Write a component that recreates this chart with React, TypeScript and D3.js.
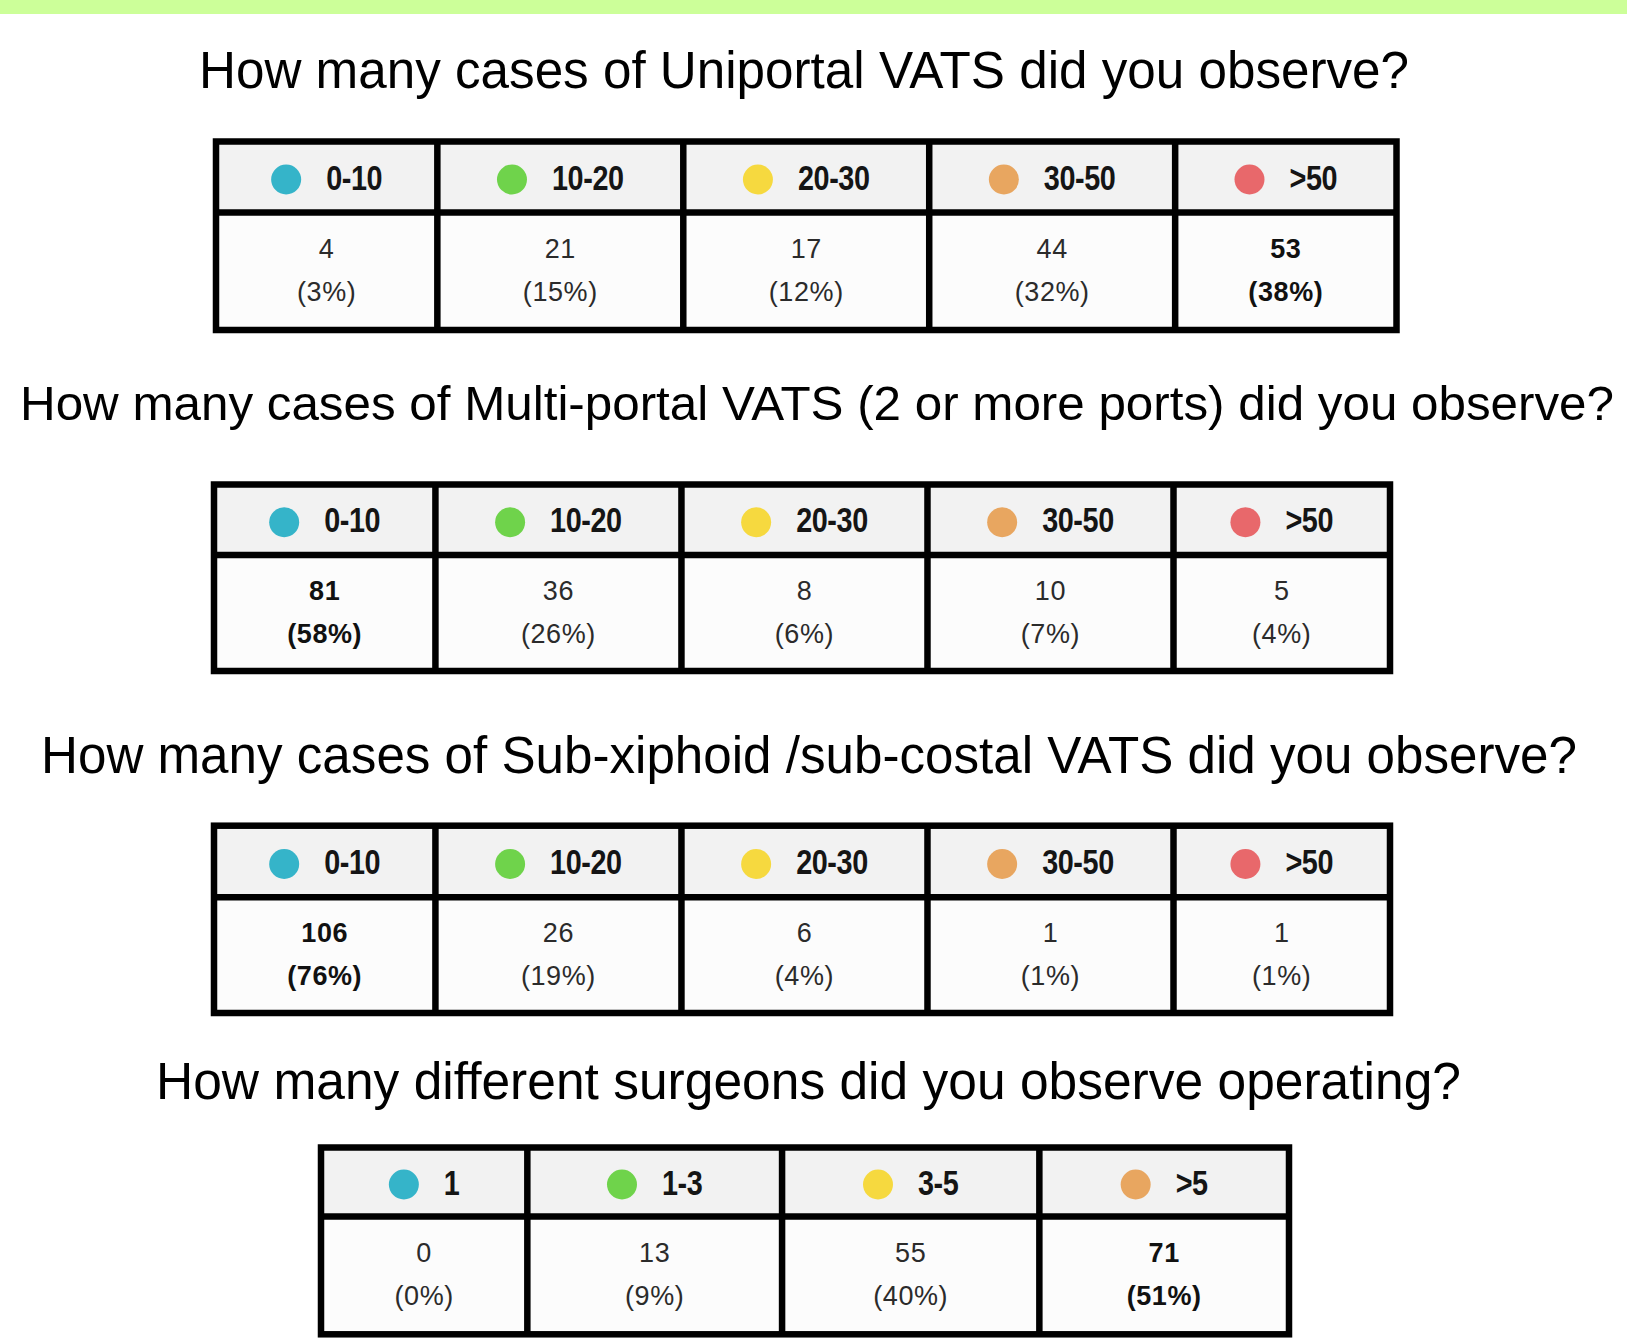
import React, { useEffect, useRef } from "react";
import * as d3 from "d3";

const W = 1627;
const H = 1339;

// ---- data ----
const caseBins = ["0-10", "10-20", "20-30", "30-50", ">50"];
const surgeonBins = ["1", "1-3", "3-5", ">5"];
const binColors = ["#35b4c9", "#6fd34b", "#f6d93f", "#e8a660", "#e8686b"];

const titleUniportal = "How many cases of Uniportal VATS did you observe?";
const titleMultiportal = "How many cases of Multi-portal VATS (2 or more ports) did you observe?";
const titleSubxiphoid = "How many cases of Sub-xiphoid /sub-costal VATS did you observe?";
const titleSurgeons = "How many different surgeons did you observe operating?";

const uniportalCounts = [4, 21, 17, 44, 53];
const uniportalPct = [3, 15, 12, 32, 38];
const multiportalCounts = [81, 36, 8, 10, 5];
const multiportalPct = [58, 26, 6, 7, 4];
const subxiphoidCounts = [106, 26, 6, 1, 1];
const subxiphoidPct = [76, 19, 4, 1, 1];
const surgeonCounts = [0, 13, 55, 71];
const surgeonPct = [0, 9, 40, 51];

// ---- layout ----
const panels = [
  {
    title: titleUniportal, bins: caseBins, counts: uniportalCounts, pct: uniportalPct,
    titleX: [199, 1409], titleY: 88, titleSize: 51, x: [216, 1396.5], y: [141.5, 212.5, 330],
    weights: [0.9, 1, 1, 1, 0.9],
  },
  {
    title: titleMultiportal, bins: caseBins, counts: multiportalCounts, pct: multiportalPct,
    titleX: [20, 1614], titleY: 420, titleSize: 48.5, x: [214, 1390], y: [484.5, 555, 671],
    weights: [0.9, 1, 1, 1, 0.88],
  },
  {
    title: titleSubxiphoid, bins: caseBins, counts: subxiphoidCounts, pct: subxiphoidPct,
    titleX: [41, 1577], titleY: 773, titleSize: 51, x: [214, 1390], y: [825.7, 897.3, 1013],
    weights: [0.9, 1, 1, 1, 0.88],
  },
  {
    title: titleSurgeons, bins: surgeonBins, counts: surgeonCounts, pct: surgeonPct,
    titleX: [156, 1461], titleY: 1099, titleSize: 51, x: [321, 1289], y: [1147.5, 1216.5, 1334.3],
    weights: [0.81, 1, 1.01, 0.98],
  },
];

const FONT = "'Liberation Sans', Arial, Helvetica, sans-serif";
const LINE = 6.5;
const LABEL_SX = 0.8;

export default function App() {
  const ref = useRef<SVGSVGElement | null>(null);

  useEffect(() => {
    const svg = d3.select(ref.current);
    svg.selectAll("*").remove();

    svg.append("rect").attr("width", W).attr("height", H).attr("fill", "#ffffff");
    svg.append("rect").attr("x", 0).attr("y", 0).attr("width", W).attr("height", 14).attr("fill", "#ccff99");

    panels.forEach((p) => {
      const g = svg.append("g");

      g.append("text")
        .attr("x", p.titleX[0])
        .attr("y", p.titleY)
        .attr("textLength", p.titleX[1] - p.titleX[0])
        .attr("lengthAdjust", "spacingAndGlyphs")
        .style("font-family", FONT)
        .style("font-size", `${p.titleSize}px`)
        .attr("fill", "#000")
        .text(p.title);

      const cum = [0, ...Array.from(d3.cumsum(p.weights))];
      const x = d3.scaleLinear().domain([0, cum[cum.length - 1]]).range(p.x);
      const [yTop, yMid, yBot] = p.y;
      const headC = (yTop + yMid) / 2;
      const bodyC = (yMid + yBot) / 2;
      const boldIdx = d3.maxIndex(p.counts);

      // backgrounds
      g.append("rect").attr("x", p.x[0]).attr("y", yTop).attr("width", p.x[1] - p.x[0])
        .attr("height", yMid - yTop).attr("fill", "#f2f2f2");
      g.append("rect").attr("x", p.x[0]).attr("y", yMid).attr("width", p.x[1] - p.x[0])
        .attr("height", yBot - yMid).attr("fill", "#fcfcfc");

      p.bins.forEach((bin, i) => {
        const cx = x((cum[i] + cum[i + 1]) / 2);
        // header legend item
        const lg = g.append("g");
        const lab = lg.append("text")
          .attr("x", 0).attr("y", 0)
          .style("font-family", FONT)
          .style("font-size", "36px")
          .style("font-weight", "bold")
          .style("letter-spacing", "-0.5px")
          .attr("fill", "#151515")
          .text(bin);
        const tw = (lab.node() as SVGTextElement).getComputedTextLength() * LABEL_SX;
        const r = 15;
        const gap = 25;
        const total = 2 * r + gap + tw;
        const left = cx - total / 2;
        g.append("circle").attr("cx", left + r).attr("cy", headC + 2.5).attr("r", r).attr("fill", binColors[i]);
        lg.attr("transform", `translate(${left + 2 * r + gap},${headC + 12.5}) scale(${LABEL_SX},1)`);

        // body values
        const bold = i === boldIdx;
        g.append("text")
          .attr("x", cx).attr("y", bodyC - 13.5)
          .attr("text-anchor", "middle")
          .style("font-family", FONT).style("font-size", "27px")
          .style("font-weight", bold ? "bold" : "normal")
          .style("letter-spacing", "0.6px")
          .attr("fill", bold ? "#111" : "#2b2b2b")
          .text(String(p.counts[i]));
        g.append("text")
          .attr("x", cx).attr("y", bodyC + 30)
          .attr("text-anchor", "middle")
          .style("font-family", FONT).style("font-size", "27px")
          .style("font-weight", bold ? "bold" : "normal")
          .style("letter-spacing", "0.6px")
          .attr("fill", bold ? "#111" : "#2b2b2b")
          .text(`(${p.pct[i]}%)`);
      });

      // grid lines
      g.append("rect").attr("x", p.x[0]).attr("y", yTop).attr("width", p.x[1] - p.x[0])
        .attr("height", yBot - yTop).attr("fill", "none").attr("stroke", "#000").attr("stroke-width", LINE);
      g.append("line").attr("x1", p.x[0]).attr("x2", p.x[1]).attr("y1", yMid).attr("y2", yMid)
        .attr("stroke", "#000").attr("stroke-width", LINE);
      cum.slice(1, -1).forEach((c) => {
        g.append("line").attr("x1", x(c)).attr("x2", x(c)).attr("y1", yTop).attr("y2", yBot)
          .attr("stroke", "#000").attr("stroke-width", LINE);
      });
    });
  }, []);

  return (
    <svg
      ref={ref}
      width={W}
      height={H}
      style={{ position: "absolute", left: 0, top: 0, display: "block" }}
    />
  );
}
